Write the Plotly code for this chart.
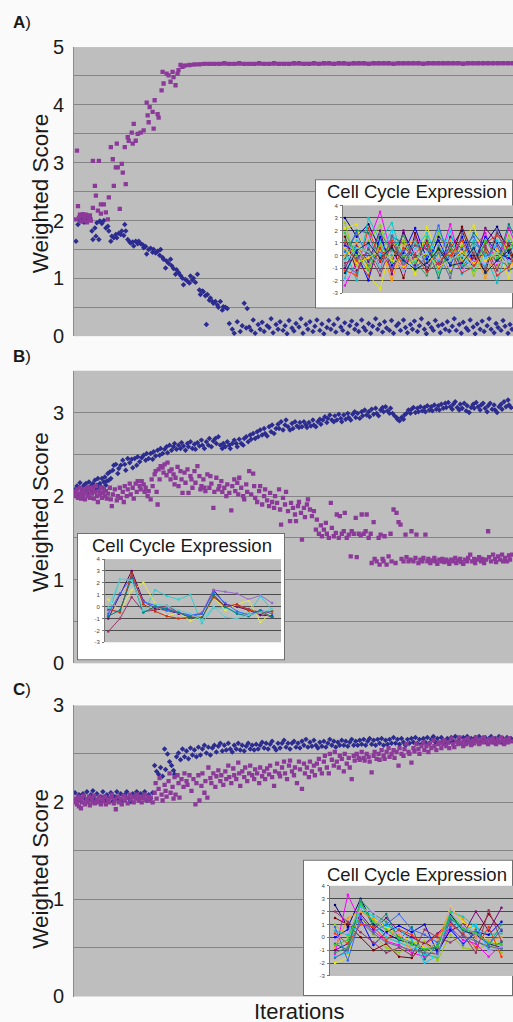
import plotly.graph_objects as go

W, H = 513, 1022
# the photographed page shows up slightly compressed vertically; positions are pre-compensated
SY, OY = 0.977, 10.0
HP = 1047

def Y(p):
    return (p - OY) / SY

# ---------------- Panel A data: (iteration, weighted score) ----------------
a_blue = [(1,1.64),(3,1.93),(5,2.0),(7,2.06),(9,1.97),(11,2.08),(13,2.02),(15,2.05),(17,1.82),(18,1.67),(20,1.87),(21,1.73),
 (22,1.96),(24,1.67),(25,1.99),(27,1.95),(29,2.0),(31,1.87),(33,1.9),(34,1.82),(36,1.64),(37,1.73),(39,1.7),(41,1.76),(42,1.7),
 (44,1.78),(46,1.76),(47,1.82),(49,1.74),(50,1.93),(51,1.82),(53,1.67),(55,1.63),(56,1.61),(58,1.63),(59,1.56),(61,1.64),(63,1.6),
 (64,1.64),(66,1.6),(68,1.58),(69,1.53),(71,1.55),(72,1.42),(74,1.5),(76,1.52),(78,1.45),(79,1.5),(81,1.44),(83,1.47),(85,1.4),
 (86,1.5),(88,1.36),(89,1.33),(91,1.18),(92,1.3),(94,1.26),(96,1.33),(97,1.22),(99,1.17),(101,1.07),(102,1.15),(104,1.1),(106,1.05),
 (108,1.0),(109,0.89),(111,0.98),(113,0.95),(115,0.92),(116,1.04),(118,0.97),(119,1.0),(121,0.93),(123,1.07),(125,0.8),(126,0.72),
 (128,0.78),(129,0.77),(131,0.7),(132,0.2),(133,0.72),(135,0.62),(136,0.66),(138,0.6),(139,0.57),(141,0.6),(143,0.54),(144,0.5),
 (146,0.6),(148,0.45),(149,0.51),(151,0.5),(153,0.48),(155,0.22),(158,0.12),(160,0.05),(163,0.25),(166,0.08),(168,0.18),(170,0.57),
 (172,0.14),(173,0.48),(175,0.16),(177,0.1),(179,0.28),(181,0.05),(184,0.2),(186,0.12),(188,0.24),(190,0.08),(193,0.18),(195,0.15),
 (197,0.3),(199,0.06),(202,0.2),(204,0.12),(206,0.25),(209,0.1),(211,0.18),(213,0.04),(215,0.27),(218,0.14),(220,0.09),(222,0.22),
 (225,0.16),(227,0.3),(229,0.05),(232,0.2),(234,0.12),(236,0.25),(239,0.08),(241,0.17),(243,0.28),(246,0.1),(248,0.21),(250,0.04),
 (253,0.15),(255,0.27),(257,0.12),(260,0.2),(262,0.07),(264,0.3),(267,0.16),(269,0.1),(271,0.23),(274,0.05),(276,0.18),(278,0.26),
 (281,0.12),(283,0.2),(285,0.08),(288,0.28),(290,0.15),(292,0.1),(295,0.22),(297,0.05),(299,0.17),(302,0.3),(304,0.12),(306,0.2),
 (309,0.07),(311,0.25),(313,0.14),(316,0.1),(318,0.27),(320,0.05),(323,0.18),(325,0.22),(327,0.1),(330,0.28),(332,0.15),(334,0.06),
 (337,0.2),(339,0.12),(341,0.26),(344,0.08),(346,0.18),(348,0.3),(351,0.12),(353,0.04),(355,0.22),(358,0.15),(360,0.1),(362,0.27),
 (365,0.18),(367,0.06),(369,0.2),(372,0.12),(374,0.25),(376,0.09),(379,0.17),(381,0.3),(383,0.1),(386,0.2),(388,0.05),(390,0.24),
 (393,0.14),(395,0.1),(397,0.28),(400,0.16),(402,0.04),(404,0.21),(407,0.12),(409,0.26),(411,0.08),(414,0.18),(416,0.3),(418,0.12),
 (421,0.06),(423,0.22),(425,0.15),(428,0.1),(430,0.27),(432,0.17),(435,0.05),(437,0.2),(439,0.12)]

a_purple = [(1,2.02),(2,3.21),(3,2.25),(4,2.05),(5,2.1),(6,1.98),(7,2.08),(8,2.11),(9,2.0),(10,2.06),(11,2.1),(12,1.97),(13,2.07),
 (14,2.03),(15,2.09),(16,2.0),(18,3.03),(18,2.22),(20,2.6),(21,2.43),(23,2.17),(24,3.03),(26,2.28),(26,2.12),(29,2.28),(31,2.14),
 (33,2.02),(34,2.4),(36,3.27),(38,3.06),(39,2.6),(41,2.92),(42,3.33),(43,2.92),(45,2.2),(47,2.98),(48,2.83),(50,3.27),(51,2.63),
 (53,3.44),(54,3.38),(57,3.52),(58,3.33),(59,3.67),(61,3.38),(63,3.5),(66,3.52),(69,3.56),(72,4.04),(73,3.82),(74,3.7),(75,3.96),
 (78,3.88),(79,3.59),(80,4.08),(83,3.84),(84,3.78),(87,4.25),(88,4.57),(89,4.37),(92,4.54),(94,4.51),(96,4.4),(98,4.57),(99,4.48),
 (101,4.34),(103,4.54),(104,4.6),(106,4.69),(108,4.66)]

a_plateau_start = 110
a_plateau_step = 5
a_plateau = [4.68,4.69,4.70,4.70,4.71,4.71,4.71,4.71,4.72,4.71,4.71,4.72,4.71,4.71,4.71,4.72,4.71,4.71,4.72,4.71,4.71,4.71,
 4.72,4.72,4.71,4.71,4.72,4.71,4.72,4.72,4.71,4.72,4.72,4.71,4.72,4.72,4.72,4.71,4.72,4.72,4.72,4.72,4.71,4.72,4.72,4.72,4.72,
 4.72,4.71,4.72,4.72,4.72,4.72,4.72,4.72,4.72,4.71,4.72,4.72,4.72,4.72,4.72,4.72,4.72,4.72,4.72,4.72,4.72]

# ---------------- Panel B data ----------------
b_blue = [(0,2.08),(1,2.02),(2,2.12),(3,2.0),(4,2.1),(5,2.16),(6,2.04),(7,2.09),(8,2.01),(9,2.13),(10,2.06),(11,2.15),(12,2.03),
 (13,2.1),(14,2.17),(15,2.07),(16,2.12),(17,2.04),(18,2.15),(19,2.09),(20,2.19),(21,2.07),(22,2.13),(23,2.21),(24,2.09),(25,2.15),
 (26,2.11),(27,2.21),(28,2.09),(29,2.17),(30,2.23),(31,2.13),(32,2.18),(33,2.27),(34,2.19),(35,2.29),(36,2.21),(38,2.31),(39,2.37),
 (41,2.38),(43,2.27),(44,2.33),(46,2.37),(48,2.43),(50,2.38),(51,2.31),(53,2.45),(55,2.4),(57,2.44),(58,2.34),(60,2.45),(62,2.37),
 (63,2.47),(65,2.41),(67,2.46),(69,2.49),(71,2.43),(72,2.51),(74,2.45),(76,2.51),(78,2.44),(79,2.53),(81,2.48),(83,2.55),(85,2.49),
 (86,2.57),(88,2.51),(90,2.56),(92,2.59),(93,2.52),(95,2.61),(97,2.55),(99,2.59),(100,2.63),(102,2.56),(104,2.61),(106,2.57),(107,2.64),
 (109,2.6),(111,2.55),(113,2.63),(114,2.59),(116,2.65),(118,2.57),(120,2.62),(121,2.56),(123,2.64),(125,2.6),(127,2.67),(128,2.61),
 (130,2.57),(132,2.65),(134,2.61),(135,2.69),(137,2.59),(139,2.66),(141,2.69),(142,2.63),(144,2.71),(146,2.61),(148,2.57),(149,2.63),
 (151,2.59),(153,2.65),(155,2.61),(156,2.57),(158,2.63),(160,2.67),(162,2.63),(163,2.59),(165,2.68),(167,2.63),(169,2.61),(170,2.69),
 (172,2.71),(174,2.65),(176,2.73),(177,2.68),(179,2.75),(181,2.69),(183,2.77),(184,2.71),(186,2.79),(188,2.73),(190,2.81),(191,2.75),
 (193,2.72),(195,2.83),(197,2.77),(198,2.85),(200,2.75),(202,2.81),(204,2.86),(205,2.81),(207,2.89),(209,2.79),(211,2.85),(212,2.91),
 (214,2.83),(216,2.79),(218,2.87),(219,2.81),(221,2.89),(223,2.84),(225,2.82),(226,2.88),(228,2.83),(230,2.89),(232,2.85),(233,2.82),
 (235,2.88),(237,2.84),(239,2.91),(240,2.85),(242,2.83),(244,2.89),(246,2.92),(247,2.86),(249,2.91),(251,2.95),(253,2.88),(254,2.93),
 (256,2.97),(258,2.91),(260,2.89),(261,2.96),(263,2.91),(265,2.98),(267,2.93),(268,2.89),(270,2.97),(272,2.92),(274,2.99),(275,2.94),
 (277,2.91),(279,2.98),(281,3.01),(282,2.94),(284,2.99),(286,2.93),(288,3.01),(289,2.96),(291,3.03),(293,2.97),(295,3.01),(296,2.95),
 (298,3.04),(300,2.98),(302,3.05),(303,2.99),(305,2.96),(307,3.03),(309,3.06),(310,3.01),(312,3.07),(314,3.02),(316,2.99),(317,3.05),
 (319,2.99),(321,2.96),(323,2.94),(324,2.92),(326,2.9),(328,2.94),(330,2.92),(331,2.97),(333,2.99),(335,3.03),(337,2.99),(338,3.04),
 (340,3.06),(342,3.0),(344,3.05),(345,3.01),(347,3.07),(349,3.02),(351,3.06),(352,3.01),(354,3.08),(356,3.03),(358,3.07),(359,3.02),
 (361,3.09),(363,3.04),(365,3.08),(366,3.03),(368,3.1),(370,3.05),(372,3.11),(373,3.06),(375,3.12),(377,3.07),(379,3.04),(380,3.1),
 (382,3.13),(384,3.06),(386,3.03),(387,3.1),(389,3.05),(391,3.11),(393,3.02),(394,3.08),(396,3.0),(398,3.06),(400,3.1),(401,3.05),
 (403,3.12),(405,3.07),(407,3.03),(408,3.09),(410,3.11),(412,3.05),(414,3.01),(415,3.08),(417,3.11),(419,3.04),(421,3.09),(422,3.03),
 (424,3.0),(426,3.07),(428,3.1),(429,3.04),(431,3.13),(433,3.07),(435,3.15),(436,3.09),(438,3.06)]

b_purple = [(0,2.05),(1,2.0),(2,2.08),(3,1.98),(4,2.03),(5,2.1),(6,1.97),(7,2.05),(8,2.0),(9,2.08),(10,1.96),(11,2.04),(12,2.1),
 (13,2.0),(14,2.06),(15,1.98),(16,2.1),(17,2.03),(18,2.08),(19,1.97),(20,2.05),(21,2.12),(22,2.0),(23,1.93),(24,2.06),(25,2.02),
 (26,2.1),(27,1.98),(28,2.04),(29,2.08),(30,2.0),(31,2.06),(32,1.97),(33,2.03),(35,2.1),(36,1.96),(37,1.88),(38,2.02),(40,2.08),
 (42,1.95),(43,2.0),(45,2.1),(46,1.98),(48,2.05),(49,1.93),(50,2.12),(52,2.0),(53,2.08),(55,2.15),(56,2.02),(58,2.1),(59,1.97),
 (61,2.15),(62,2.05),(63,2.18),(65,2.12),(66,2.08),(67,2.18),(69,2.14),(70,2.05),(71,2.1),(73,2.0),(74,2.06),(76,1.96),(77,2.2),
 (78,2.12),(80,2.26),(81,2.3),(82,2.05),(83,1.9),(84,2.32),(85,2.2),(86,2.36),(88,2.34),(89,2.28),(90,2.38),(92,2.25),(93,2.4),
 (95,2.3),(96,2.2),(97,2.32),(99,2.26),(100,2.14),(101,2.22),(103,2.35),(104,2.12),(106,2.3),(107,2.2),(108,2.04),(110,2.28),
 (111,2.16),(113,2.32),(114,2.04),(116,2.24),(117,2.2),(118,2.1),(120,2.3),(121,2.16),(123,2.36),(125,2.24),(126,2.08),(127,2.12),
 (129,2.2),(130,2.1),(131,2.06),(133,2.26),(135,2.1),(136,2.24),(137,2.15),(139,1.86),(140,2.05),(142,2.22),(144,2.08),(145,2.12),
 (147,2.18),(148,2.05),(150,2.1),(152,2.0),(153,2.14),(155,2.04),(157,1.83),(158,2.12),(160,2.2),(161,2.06),(163,2.16),(164,2.02),
 (165,2.22),(167,2.1),(169,2.0),(170,1.96),(172,2.14),(173,2.05),(175,2.3),(177,2.02),(179,2.27),(180,2.12),(181,1.98),(183,1.93),
 (185,2.06),(186,2.12),(188,1.9),(190,2.0),(191,2.08),(193,1.95),(195,1.88),(196,2.04),(198,1.93),(200,1.86),(201,2.0),(203,1.92),
 (205,2.08),(206,1.84),(207,1.66),(209,1.98),(211,1.9),(212,2.05),(214,1.82),(216,1.7),(217,1.92),(219,1.86),(221,1.78),(222,1.7),
 (224,1.88),(225,1.93),(227,1.8),(228,1.48),(230,1.86),(231,1.75),(233,1.9),(234,1.96),(236,1.84),(238,1.76),(240,1.82),(242,1.6),
 (243,1.72),(245,1.55),(247,1.65),(248,1.52),(250,1.6),(252,1.68),(253,1.55),(255,1.5),(257,1.92),(258,1.62),(260,1.52),(262,1.56),
 (263,1.78),(265,1.5),(266,1.76),(268,1.55),(270,1.58),(271,1.8),(273,1.5),(275,1.54),(277,1.28),(278,1.58),(280,1.55),(282,1.74),
 (283,1.27),(285,1.55),(287,1.53),(288,1.78),(290,1.55),(292,1.58),(293,1.78),(295,1.5),(297,1.55),(298,1.2),(300,1.69),(301,1.25),
 (303,1.22),(305,1.5),(306,1.18),(307,1.54),(309,1.25),(310,1.22),(311,1.52),(313,1.18),(315,1.28),(317,1.55),(318,1.22),(320,1.84),
 (322,1.2),(323,1.8),(325,1.69),(327,1.66),(328,1.25),(330,1.22),(332,1.54),(333,1.27),(335,1.22),(337,1.24),(338,1.58),(340,1.22),
 (342,1.26),(343,1.54),(345,1.2),(347,1.24),(349,1.22),(350,1.26),(352,1.54),(354,1.22),(355,1.25),(357,1.2),(359,1.23),(361,1.26),
 (362,1.22),(364,1.19),(366,1.24),(368,1.22),(369,1.25),(371,1.21),(373,1.24),(375,1.22),(376,1.19),(378,1.24),(380,1.22),(382,1.26),
 (383,1.2),(385,1.23),(387,1.25),(388,1.21),(390,1.19),(392,1.24),(394,1.22),(395,1.26),(397,1.3),(399,1.22),(401,1.25),(402,1.2),
 (404,1.24),(406,1.27),(408,1.22),(409,1.25),(411,1.2),(413,1.24),(415,1.58),(416,1.27),(418,1.22),(420,1.3),(422,1.25),(423,1.21),
 (425,1.28),(427,1.24),(429,1.3),(430,1.22),(432,1.26),(434,1.22),(436,1.29),(437,1.24),(439,1.3)]

# ---------------- Panel C data ----------------
c_blue = [(0,2.1),(2,2.03),(4,2.08),(6,2.01),(8,2.09),(10,2.04),(12,2.11),(14,2.02),(16,2.08),(18,2.12),(20,2.03),(22,2.09),
 (24,2.01),(26,2.06),(28,2.11),(30,2.02),(32,2.08),(34,2.04),(36,2.1),(38,2.01),(40,2.06),(42,2.11),(44,2.03),(46,2.09),(48,2.02),
 (50,2.08),(52,2.11),(54,2.04),(56,2.01),(58,2.09),(60,2.05),(62,2.11),(64,2.03),(66,2.09),(68,2.05),(70,2.11),(72,2.02),(74,2.08),
 (76,2.04),(78,2.1),(80,2.38),(82,2.32),(84,2.29),(86,2.36),(88,2.27),(90,2.55),(91,2.34),(93,2.5),(95,2.42),(97,2.38),(99,2.33),
 (100,2.29),(102,2.47),(104,2.51),(106,2.44),(108,2.55),(110,2.47),(112,2.53),(114,2.45),(116,2.56),(118,2.49),(120,2.54),(122,2.47),
 (124,2.57),(126,2.49),(128,2.55),(130,2.59),(132,2.51),(134,2.57),(136,2.49),(138,2.56),(140,2.59),(142,2.52),(144,2.58),(146,2.61),
 (148,2.53),(150,2.59),(152,2.54),(154,2.61),(156,2.55),(158,2.52),(160,2.59),(162,2.55),(164,2.61),(166,2.54),(168,2.59),(170,2.53),
 (172,2.58),(174,2.61),(176,2.55),(178,2.59),(180,2.54),(182,2.6),(184,2.55),(186,2.59),(188,2.62),(190,2.56),(192,2.61),(194,2.55),
 (196,2.6),(198,2.63),(200,2.57),(202,2.54),(204,2.61),(206,2.56),(208,2.61),(210,2.64),(212,2.57),(214,2.61),(216,2.55),(218,2.61),
 (220,2.63),(222,2.57),(224,2.61),(226,2.56),(228,2.63),(230,2.59),(232,2.65),(234,2.57),(236,2.62),(238,2.58),(240,2.64),(242,2.59),
 (244,2.56),(246,2.62),(248,2.58),(250,2.63),(252,2.57),(254,2.61),(256,2.65),(258,2.59),(260,2.63),(262,2.57),(264,2.62),(266,2.59),
 (268,2.64),(270,2.59),(272,2.63),(274,2.58),(276,2.62),(278,2.65),(280,2.59),(282,2.63),(284,2.59),(286,2.64),(288,2.6),(290,2.65),
 (292,2.59),(294,2.63),(296,2.66),(298,2.6),(300,2.64),(302,2.59),(304,2.65),(306,2.61),(308,2.66),(310,2.59),(312,2.64),(314,2.6),
 (316,2.65),(318,2.61),(320,2.67),(322,2.61),(324,2.65),(326,2.6),(328,2.66),(330,2.62),(332,2.59),(334,2.65),(336,2.61),(338,2.66),
 (340,2.62),(342,2.67),(344,2.61),(346,2.65),(348,2.6),(350,2.66),(352,2.62),(354,2.67),(356,2.61),(358,2.65),(360,2.68),(362,2.62),
 (364,2.66),(366,2.61),(368,2.67),(370,2.63),(372,2.61),(374,2.66),(376,2.62),(378,2.67),(380,2.63),(382,2.68),(384,2.62),(386,2.66),
 (388,2.61),(390,2.67),(392,2.63),(394,2.68),(396,2.62),(398,2.66),(400,2.61),(402,2.67),(404,2.63),(406,2.68),(408,2.62),(410,2.66),
 (412,2.67),(414,2.61),(416,2.66),(418,2.68),(420,2.62),(422,2.66),(424,2.63),(426,2.68),(428,2.62),(430,2.66),(432,2.61),(434,2.67),
 (436,2.63),(438,2.66)]

c_purple = [(0,2.0),(1,2.04),(2,1.98),(3,2.06),(4,1.96),(5,2.02),(6,1.94),(7,2.05),(8,2.0),(9,2.07),(10,1.98),(12,2.03),(13,2.0),
 (14,2.06),(15,1.97),(17,2.04),(18,2.0),(19,2.07),(20,1.99),(22,2.03),(23,2.0),(24,2.06),(26,1.98),(27,2.04),(28,2.01),(30,2.06),
 (31,1.98),(33,2.03),(34,2.0),(36,2.05),(37,2.08),(39,1.99),(40,2.03),(41,1.93),(43,2.06),(44,2.0),(46,2.04),(47,1.98),(49,2.07),
 (50,2.02),(52,2.05),(53,1.99),(55,2.08),(56,2.03),(58,2.06),(59,2.0),(61,2.04),(62,2.08),(64,2.02),(65,2.06),(67,2.0),(68,2.05),
 (70,2.08),(71,2.03),(73,2.06),(74,2.02),(76,2.05),(78,2.0),(80,2.1),(81,2.2),(82,2.04),(84,2.14),(85,2.25),(87,2.08),(88,2.02),
 (90,2.18),(91,2.12),(92,2.06),(94,2.22),(95,2.3),(96,2.1),(98,2.16),(99,2.04),(100,2.26),(101,2.08),(103,2.28),(104,2.2),(105,2.05),
 (107,2.24),(109,2.16),(110,2.3),(112,2.22),(113,2.18),(115,2.28),(117,2.12),(119,2.24),(121,1.98),(122,2.2),(124,2.28),(125,2.02),
 (127,2.17),(128,2.3),(130,2.1),(131,2.22),(133,2.05),(134,2.36),(136,2.25),(137,2.2),(139,2.3),(141,2.16),(142,2.27),(144,2.33),
 (146,2.22),(147,2.28),(149,2.18),(151,2.32),(152,2.24),(154,2.38),(155,2.26),(157,2.2),(159,2.35),(160,2.28),(162,2.24),(164,2.41),
 (165,2.3),(166,2.17),(168,2.32),(170,2.26),(171,2.36),(173,2.22),(175,2.3),(176,2.38),(178,2.28),(180,2.24),(181,2.34),(183,2.3),
 (185,2.2),(186,2.36),(188,2.27),(190,2.32),(191,2.24),(193,2.35),(195,2.29),(196,2.38),(198,2.26),(200,2.17),(201,2.32),(203,2.4),
 (205,2.3),(206,2.27),(208,2.36),(210,2.42),(211,2.3),(213,2.24),(215,2.38),(216,2.43),(218,2.32),(220,2.28),(221,2.36),(223,2.2),
 (225,2.42),(226,2.34),(228,2.14),(230,2.4),(231,2.3),(233,2.36),(235,2.26),(236,2.42),(238,2.32),(240,2.38),(241,2.28),(243,2.4),
 (245,2.45),(246,2.34),(248,2.3),(250,2.42),(251,2.48),(253,2.36),(255,2.3),(256,2.5),(258,2.44),(260,2.38),(261,2.52),(263,2.42),
 (265,2.36),(266,2.48),(268,2.45),(270,2.32),(271,2.5),(273,2.4),(275,2.46),(276,2.36),(278,2.24),(280,2.48),(281,2.43),(283,2.5),
 (285,2.46),(286,2.44),(288,2.52),(290,2.46),(291,2.43),(293,2.5),(295,2.47),(296,2.42),(298,2.31),(300,2.48),(301,2.52),(303,2.45),
 (305,2.5),(306,2.44),(308,2.54),(310,2.48),(311,2.45),(313,2.52),(315,2.56),(316,2.47),(318,2.5),(320,2.54),(321,2.46),(323,2.52),
 (325,2.38),(326,2.56),(328,2.5),(330,2.48),(331,2.55),(333,2.6),(335,2.52),(336,2.5),(338,2.41),(340,2.56),(341,2.53),(343,2.6),
 (345,2.55),(346,2.5),(348,2.58),(350,2.62),(351,2.54),(353,2.58),(355,2.52),(356,2.6),(358,2.56),(360,2.64),(361,2.58),(363,2.54),
 (365,2.6),(366,2.62),(368,2.56),(370,2.6),(371,2.64),(373,2.58),(375,2.62),(376,2.56),(378,2.66),(380,2.6),(381,2.57),(383,2.63),
 (385,2.6),(386,2.67),(388,2.62),(390,2.58),(391,2.64),(393,2.6),(395,2.66),(396,2.62),(398,2.59),(400,2.64),(401,2.61),(403,2.67),
 (405,2.63),(406,2.6),(408,2.65),(410,2.62),(411,2.67),(413,2.63),(415,2.6),(416,2.65),(418,2.62),(420,2.66),(421,2.63),(423,2.6),
 (425,2.65),(426,2.62),(428,2.67),(430,2.64),(431,2.6),(433,2.65),(435,2.62),(436,2.66),(438,2.63)]

# ---------------- Inset expression profiles ----------------
inset_a = [
 [3.0,1.5,2.5,0.5,-0.5,1.8,0.0,-1.0,1.5,0.5,2.0,-0.5,1.0,2.3,0.2,1.5],
 [-2.4,-0.5,1.0,3.5,0.0,-1.0,1.5,0.5,-0.5,2.5,-1.0,0.5,1.8,-0.8,2.2,0.0],
 [2.2,2.5,-1.5,-2.7,1.0,0.5,-1.5,2.3,0.0,-1.2,1.0,2.4,-0.5,0.5,-1.8,2.5],
 [0.5,-2.0,3.0,1.2,2.6,-0.3,1.0,-0.5,2.0,0.3,-0.8,1.2,0.0,-2.2,1.2,-0.5],
 [-1.0,0.8,-0.5,2.0,-1.5,2.0,-0.8,1.2,-1.2,1.5,0.5,-1.0,2.2,1.0,-0.5,1.0],
 [1.5,-1.2,0.5,-0.5,0.8,-1.8,1.8,-1.2,0.6,-0.5,2.3,0.0,-1.3,1.8,0.8,-1.5],
 [-0.3,2.0,1.8,-1.0,1.5,1.0,-0.2,0.8,-1.8,1.0,-0.2,1.8,0.6,-0.5,2.5,0.5],
 [0.8,0.2,-2.0,1.5,-0.8,0.2,2.2,-0.3,1.2,-0.8,1.5,-0.6,1.5,0.2,-0.2,-1.0],
 [-1.8,1.2,0.8,0.0,2.0,-0.6,0.5,1.8,-0.4,2.0,-1.5,0.8,-0.8,1.2,0.0,1.8],
 [2.6,-0.8,1.2,2.4,-0.2,1.2,-1.2,0.2,1.8,-0.2,0.8,-1.6,0.4,-1.0,1.6,-0.2],
 [0.0,1.0,-1.0,0.8,-2.0,0.8,1.2,-0.8,0.4,1.2,-0.4,0.4,-1.8,0.6,-1.0,0.8],
 [-1.2,-1.6,2.2,-0.4,1.2,-1.0,0.2,1.0,-1.0,0.0,1.2,-0.8,1.0,1.6,0.5,-2.4],
 [1.2,0.5,-0.8,1.8,0.4,1.6,-0.5,-1.6,0.8,-1.4,0.2,1.0,0.2,-0.4,-0.8,1.2],
 [-0.6,-0.2,0.2,-1.6,1.0,-0.2,0.8,0.5,-0.8,0.8,-1.0,-0.2,0.8,-1.2,1.0,0.3],
 [0.3,1.8,-0.3,0.3,-1.0,0.4,-1.0,-0.1,2.4,-0.6,0.6,1.5,-0.2,0.8,-1.2,-0.8],
 [-2.0,-1.0,1.5,-0.8,0.2,-1.4,0.4,-0.7,-0.2,-1.0,-1.2,-0.4,-0.6,-0.6,-0.4,-0.6],
 [1.8,0.0,-1.2,1.0,-0.6,0.0,-0.6,1.5,-1.4,0.6,-0.6,-1.2,1.2,-0.2,0.6,1.5],
 [-0.8,-1.4,0.6,-1.2,1.6,-0.8,1.4,-1.0,0.2,-1.8,1.8,0.2,-1.0,2.0,-0.6,-0.2],
 [0.6,-0.6,-0.2,0.4,-0.4,-0.9,-0.3,0.2,-0.9,-0.4,0.3,-0.6,-0.4,0.2,-0.9,-0.3],
 [-1.4,0.4,1.0,-0.2,0.6,-0.4,-1.1,-0.6,0.5,-0.8,-0.6,0.6,-1.4,-0.4,0.4,-1.2],
 [1.0,-0.4,-1.6,0.6,-1.2,0.6,0.0,-1.3,-0.6,0.4,-1.4,-0.9,0.5,-1.6,-0.9,0.6],
 [-0.4,0.6,0.3,-0.9,0.2,-1.2,-0.4,0.3,-1.2,-0.3,0.0,-1.0,-0.2,0.2,-0.5,-0.9],
]
inset_b = [
 [-1.0,1.0,3.0,0.5,-0.2,-0.3,-0.6,-0.8,-0.6,1.4,0.2,0.0,-0.3,-0.7,-0.8],
 [-2.1,-1.0,0.8,-0.4,-0.3,0.1,-0.5,-0.9,-0.9,0.9,0.0,0.1,-0.2,-0.5,-0.9],
 [-0.3,-0.4,2.6,0.4,0.0,-0.1,-0.5,-0.8,-0.5,1.4,1.25,1.1,0.6,0.95,0.3],
 [-0.7,2.3,2.3,-0.5,1.4,0.9,0.6,1.0,-1.4,-0.1,-0.1,-0.5,-0.6,0.9,-0.3],
 [0.6,-0.4,1.4,2.0,0.3,-0.8,-0.5,-1.2,-0.8,0.8,-0.3,0.2,0.5,-1.3,-0.5],
 [-0.6,1.1,2.5,0.4,0.1,-0.3,-0.5,-0.7,-0.6,1.2,0.3,-0.4,-0.7,-0.3,-0.6],
 [-0.2,-0.5,2.8,0.2,-0.4,-0.8,-1.0,-0.9,-0.9,0.8,0.0,0.2,-0.3,-0.5,-0.4],
 [-0.8,-0.3,2.4,-0.5,0.0,-0.2,-0.5,-0.9,-1.0,1.0,0.0,-0.6,-0.8,-0.3,-0.9],
 [-0.1,2.3,2.2,-0.3,0.2,0.1,-0.3,-0.6,-1.1,0.0,-0.9,-1.0,-0.7,-0.5,-0.2],
]
inset_c = [
 [2.5,0.8,3.0,1.0,0.3,-0.2,-0.5,-1.0,-0.8,1.8,0.5,0.2,-0.5,-0.8],
 [-1.3,3.3,1.2,0.5,-0.3,-0.6,-1.2,-1.5,-1.0,0.8,-0.2,-0.5,-1.5,-0.6],
 [-2.0,-1.6,2.6,1.5,0.8,0.2,-0.3,-0.8,-1.2,2.4,1.2,0.6,-0.3,-0.5],
 [0.5,0.2,2.2,1.2,0.0,-0.4,-0.8,-1.3,-1.6,2.0,1.6,0.8,0.2,0.3],
 [-1.0,-0.5,1.8,0.6,1.5,0.5,0.0,-0.5,0.3,1.2,0.2,2.0,0.5,2.3],
 [1.5,1.0,0.0,-1.0,-0.5,-1.5,-1.6,-0.4,-1.0,0.5,1.0,0.0,1.8,0.5],
 [-0.5,-1.0,2.8,0.8,1.8,-0.2,0.8,-1.7,-0.6,1.4,0.8,-0.3,-0.8,-0.4],
 [0.0,0.6,1.4,-0.6,0.4,0.9,0.4,1.0,-1.2,0.6,-0.5,0.4,0.2,1.2],
 [-1.5,-1.2,2.4,1.6,0.9,0.6,-0.2,-2.0,-1.4,1.6,0.4,1.0,-1.0,-0.8],
 [1.0,0.0,1.6,0.2,-0.8,-1.2,-0.5,-0.3,-1.8,0.2,-0.8,-1.0,-0.5,-1.2],
 [-0.8,1.5,2.0,1.4,0.6,0.2,-1.0,-1.2,-0.3,2.2,1.4,0.0,-0.2,0.0],
 [0.3,-0.5,1.0,0.8,-0.2,0.6,0.2,-0.6,0.2,1.0,0.3,-0.8,0.8,-1.5],
 [-1.2,-0.8,2.9,1.8,1.2,0.0,-0.4,-1.0,-0.8,1.6,0.6,0.4,-0.6,1.0],
 [2.0,1.2,0.4,-0.4,-1.2,-0.8,-1.4,0.6,0.0,-0.4,0.2,-1.2,2.1,-0.3],
 [0.8,-1.8,1.6,0.4,1.0,1.8,0.6,0.2,-0.4,0.8,-0.6,0.6,-0.6,0.6],
 [-0.2,0.4,2.2,2.0,0.2,0.4,-0.8,-0.6,-1.4,2.3,0.9,0.2,-1.1,-0.7],
 [-0.6,-0.2,2.6,1.2,0.6,-0.1,-0.6,-0.9,-0.7,1.9,0.7,0.3,-0.4,-0.6],
 [-1.6,-1.0,1.2,0.3,-0.4,-0.7,-1.0,-1.2,-1.3,1.3,0.1,-0.3,-0.7,-0.9],
]

main_tickvals_a = [0,0.5,1,1.5,2,2.5,3,3.5,4,4.5,5]
main_ticktext_a = ["0","","1","","2","","3","","4","","5"]
main_tickvals_b = [0,0.5,1,1.5,2,2.5,3,3.5]
main_ticktext_b = ["0","","1","","2","","3",""]
main_tickvals_c = [0,0.5,1,1.5,2,2.5,3]
main_ticktext_c = ["0","","1","","2","","3"]
inset_tickvals = [-3,-2,-1,0,1,2,3,4]
inset_ticktext = ["-3","-2","-1","0","1","2","3","4"]

palette = ["#000080","#ff00ff","#e6e600","#00cccc","#800080","#800000","#008080","#0000ff","#00ccff",
           "#99cc00","#ff9900","#ff3300","#339966","#993366","#3366ff","#cc99ff","#33cc33","#666699",
           "#ffcc00","#003366","#cc3333","#66cccc"]
palette_b = ["#660066","#993366","#9966cc","#33cccc","#e6e64c","#3366ff","#cc3300","#008080","#66cccc"]

BLUE = "#2c2c90"
PURPLE = "#8c3a9a"
FONT = "Liberation Sans, Arial, sans-serif"

fig = go.Figure()

def unzip(pairs):
    return [p[0] for p in pairs], [p[1] for p in pairs]

def add_pair(blue, purple, xa, ya):
    bx, by = unzip(blue)
    px_, py_ = unzip(purple)
    fig.add_trace(go.Scatter(x=bx, y=by, mode="markers", xaxis=xa, yaxis=ya,
                             marker=dict(symbol="diamond", size=4.2, color=BLUE, line=dict(width=0)),
                             showlegend=False, hoverinfo="skip"))
    fig.add_trace(go.Scatter(x=px_, y=py_, mode="markers", xaxis=xa, yaxis=ya,
                             marker=dict(symbol="square", size=4.3, color=PURPLE, line=dict(width=0)),
                             showlegend=False, hoverinfo="skip"))

add_pair(a_blue, a_purple, "x", "y")
fig.add_trace(go.Scatter(x=[a_plateau_start + a_plateau_step * i for i in range(len(a_plateau))], y=a_plateau,
                         mode="lines+markers", xaxis="x", yaxis="y",
                         line=dict(color=PURPLE, width=3.5),
                         marker=dict(symbol="square", size=4.3, color=PURPLE, line=dict(width=0)),
                         showlegend=False, hoverinfo="skip"))
add_pair(b_blue, b_purple, "x2", "y2")
add_pair(c_blue, c_purple, "x3", "y3")

# empty traces so the white inset-box subplots exist
for k in (4, 5, 6):
    fig.add_trace(go.Scatter(x=[], y=[], xaxis=f"x{k}", yaxis=f"y{k}", showlegend=False))

def add_inset(lines, colors, k):
    for i, vals in enumerate(lines):
        c = colors[i % len(colors)]
        fig.add_trace(go.Scatter(x=list(range(len(vals))), y=vals, mode="lines+markers",
                                 xaxis=f"x{k}", yaxis=f"y{k}",
                                 line=dict(color=c, width=1),
                                 marker=dict(size=2.5, color=c),
                                 showlegend=False, hoverinfo="skip"))

add_inset(inset_a, palette, 7)
add_inset(inset_b, palette_b, 8)
add_inset(inset_c, palette, 9)

def dx(p0, p1):
    return [p0 / W, min(p1 / W, 1.0)]

def dy(top, bottom):
    return [max(1 - Y(bottom) / HP, 0.0), min(1 - Y(top) / HP, 1.0)]

main_x = dict(showticklabels=False, showgrid=False, zeroline=False, showline=False, ticks="", range=[-1, 440])
def main_y(tv, tt, rng, dom, xa):
    return dict(domain=dom, anchor=xa, range=rng, tickmode="array", tickvals=tv, ticktext=tt,
                showgrid=True, gridcolor="#858585", gridwidth=1.2, zeroline=False,
                showline=True, linecolor="#8a8a8a", linewidth=1, ticks="", ticklabelstandoff=5,
                tickfont=dict(family=FONT, size=20, color="#1a1a1a"))

hidden = dict(visible=False, range=[0, 1], showgrid=False, zeroline=False)

def inset_y(dom, xa):
    return dict(domain=dom, anchor=xa, range=[-3, 4], tickmode="array", tickvals=inset_tickvals,
                ticktext=inset_ticktext, showgrid=True, gridcolor="#4a4a4a", gridwidth=1, zeroline=False,
                showline=True, linecolor="#777777", linewidth=1, ticks="outside", ticklen=2, tickcolor="#777777",
                ticklabelstandoff=1, tickfont=dict(family=FONT, size=6, color="#444444"))

def inset_x(dom, ya, rng):
    return dict(domain=dom, anchor=ya, range=rng, showticklabels=False, showgrid=False, zeroline=False,
                showline=False, ticks="")

fig.update_layout(
    width=W, height=HP, autosize=False,
    margin=dict(l=0, r=0, t=0, b=0, pad=0),
    paper_bgcolor="#fafafa", plot_bgcolor="#bebebe",
    font=dict(family=FONT, color="#1a1a1a"),
    showlegend=False,
    xaxis=dict(domain=dx(74, 513), anchor="y", **main_x),
    yaxis=main_y(main_tickvals_a, main_ticktext_a, [0, 5], dy(46, 334.5), "x"),
    xaxis2=dict(domain=dx(74, 513), anchor="y2", **main_x),
    yaxis2=main_y(main_tickvals_b, main_ticktext_b, [0, 3.5], dy(369, 661), "x2"),
    xaxis3=dict(domain=dx(74, 513), anchor="y3", **main_x),
    yaxis3=main_y(main_tickvals_c, main_ticktext_c, [0, 3], dy(703, 993.5), "x3"),
    xaxis4=dict(domain=dx(315, 513), anchor="y4", **hidden),
    yaxis4=dict(domain=dy(178, 307), anchor="x4", **hidden),
    xaxis5=dict(domain=dx(77, 285), anchor="y5", **hidden),
    yaxis5=dict(domain=dy(531, 658), anchor="x5", **hidden),
    xaxis6=dict(domain=dx(303, 513), anchor="y6", **hidden),
    yaxis6=dict(domain=dy(857, 993), anchor="x6", **hidden),
    xaxis7=inset_x(dx(343, 513), "y7", [-0.17, 14.36]),
    yaxis7=inset_y(dy(204, 291.5), "x7"),
    xaxis8=inset_x(dx(105, 281), "y8", [-0.28, 14.76]),
    yaxis8=inset_y(dy(557, 640), "x8"),
    xaxis9=inset_x(dx(330, 513), "y9", [-0.39, 13.9]),
    yaxis9=inset_y(dy(883, 973), "x9"),
)

# white inset boxes (drawn inside their own subplot, above the main panel)
for k in (4, 5, 6):
    fig.add_shape(type="rect", xref=f"x{k}", yref=f"y{k}", x0=0, x1=1, y0=0, y1=1,
                  fillcolor="white", line=dict(color="#6f6f6f", width=2), layer="below")

def ann(text, px_, py_, size, angle=0, xanchor="center"):
    fig.add_annotation(text=text, x=px_ / W, y=1 - Y(py_) / HP, xref="paper", yref="paper",
                       xanchor=xanchor, yanchor="middle", showarrow=False, textangle=angle,
                       font=dict(family=FONT, size=size, color="#1a1a1a"))

ann("<b>A</b>)", 11, 21, 17, xanchor="left")
ann("<b>B</b>)", 11, 355, 17, xanchor="left")
ann("<b>C</b>)", 11, 687, 17, xanchor="left")
ann("Weighted Score", 40, 192, 22.5, angle=-90)
ann("Weighted Score", 40, 510, 22.5, angle=-90)
ann("Weighted Score", 41, 866, 22.5, angle=-90)
ann("Iterations", 299, 1008, 22)
ann("Cell Cycle Expression", 417, 190, 18.5)
ann("Cell Cycle Expression", 182, 543, 18.5)
ann("Cell Cycle Expression", 417, 872, 18.5)

fig.write_html(
    "out.html",
    config={"responsive": False, "displayModeBar": False},
    post_script="document.body.style.margin='0';",
)
